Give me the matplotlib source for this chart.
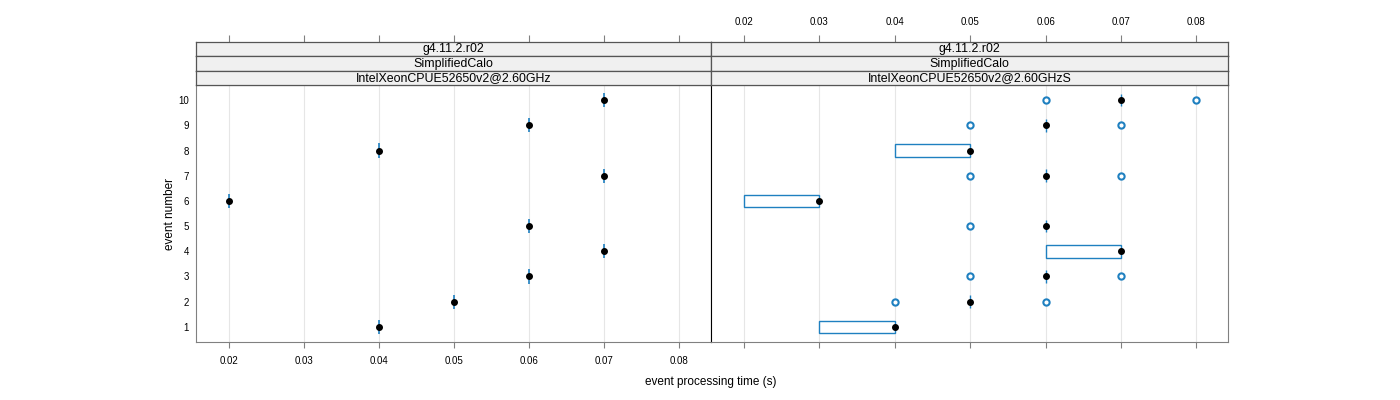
import numpy as np
import matplotlib.pyplot as plt

plt.rcParams['font.family'] = ['Liberation Sans', 'DejaVu Sans']

# data
events = [1, 2, 3, 4, 5, 6, 7, 8, 9, 10]
left_time = [0.04, 0.05, 0.06, 0.07, 0.06, 0.02, 0.07, 0.04, 0.06, 0.07]
right_q1 = [0.03, 0.05, 0.06, 0.06, 0.06, 0.02, 0.06, 0.04, 0.06, 0.07]
right_median = [0.04, 0.05, 0.06, 0.07, 0.06, 0.03, 0.06, 0.05, 0.06, 0.07]
outlier_event = [2, 2, 3, 3, 5, 7, 7, 9, 9, 10, 10]
outlier_time = [0.04, 0.06, 0.05, 0.07, 0.05, 0.05, 0.07, 0.05, 0.07, 0.06, 0.08]
xticks = [0.02, 0.03, 0.04, 0.05, 0.06, 0.07, 0.08]
strip_left = ['g4.11.2.r02', 'SimplifiedCalo', 'IntelXeonCPUE52650v2@2.60GHz']
strip_right = ['g4.11.2.r02', 'SimplifiedCalo', 'IntelXeonCPUE52650v2@2.60GHzS']

blue = '#1f80c0'
frame = '#808080'
xlim = (0.01562, 0.0842)
ylim = (0.4, 10.6)

fig = plt.figure(figsize=(14, 4), dpi=100)

W = 1400.0
H = 400.0
panels = [(196, 711), (711, 1228)]
y_bot, y_top = 342, 85
strip_h = 14.3


def make_panel(x0, x1):
    ax = fig.add_axes([x0 / W, 1 - y_bot / H, (x1 - x0) / W, (y_bot - y_top) / H])
    ax.set_xlim(*xlim)
    ax.set_ylim(*ylim)
    for s in ax.spines.values():
        s.set_color(frame)
    ax.set_xticks(xticks)
    for xt in xticks:
        ax.axvline(xt, color='#e6e6e6', lw=0.8, zorder=0)
    ax.tick_params(axis='x', labelsize=7, length=4, color=frame, pad=6)
    ax.tick_params(axis='y', labelsize=7, length=0, pad=5)
    return ax


def make_strips(x0, x1, labels, ticks_top, labels_top):
    axs = []
    for i, lab in enumerate(labels):
        top = y_top - (len(labels) - i) * strip_h
        sa = fig.add_axes([x0 / W, 1 - (top + strip_h) / H, (x1 - x0) / W, strip_h / H])
        sa.set_facecolor('#f0f0f0')
        sa.set_xlim(*xlim)
        sa.set_yticks([])
        sa.set_xticks([])
        for s in sa.spines.values():
            s.set_color('#555555')
            s.set_linewidth(0.9)
        sa.text(0.5, 0.5, lab, transform=sa.transAxes, ha='center', va='center', fontsize=8.9)
        axs.append(sa)
    top_ax = axs[0]
    if ticks_top:
        top_ax.xaxis.tick_top()
        top_ax.set_xticks(xticks)
        top_ax.tick_params(axis='x', labelsize=7, length=5, color=frame, pad=6,
                           labeltop=labels_top)
        if labels_top:
            top_ax.set_xticklabels([f'{t:.2f}' for t in xticks])
    return axs


# left panel: points with short error bars
axl = make_panel(*panels[0])
axl.set_yticks(events)
axl.set_xticklabels([f'{t:.2f}' for t in xticks])
axl.vlines(left_time, np.array(events) - 0.28, np.array(events) + 0.28, color=blue, lw=1.2, zorder=2)
axl.plot(left_time, events, 'o', color='black', ms=4, zorder=3)
axl.set_ylabel('event number', fontsize=8.5, labelpad=2)
make_strips(*panels[0], strip_left, True, False)

# right panel: box and whisker style
axr = make_panel(*panels[1])
axr.set_yticks([])
axr.tick_params(axis='x', labelbottom=False)
axr.spines['left'].set_color('black')
axr.barh(events, np.array(right_median) - np.array(right_q1), left=right_q1, height=0.5,
         fill=False, edgecolor=blue, lw=1.0, zorder=2)
axr.plot(outlier_time, outlier_event, 'o', mfc='white', mec=blue, mew=1.5, ms=4.5, ls='none', zorder=3)
axr.plot(right_median, events, 'o', color='black', ms=4, zorder=4)
make_strips(*panels[1], strip_right, True, True)

fig.text(711 / W, 1 - 382 / H, 'event processing time (s)', ha='center', va='center', fontsize=8.5)

fig.savefig('out.png', dpi=100)
